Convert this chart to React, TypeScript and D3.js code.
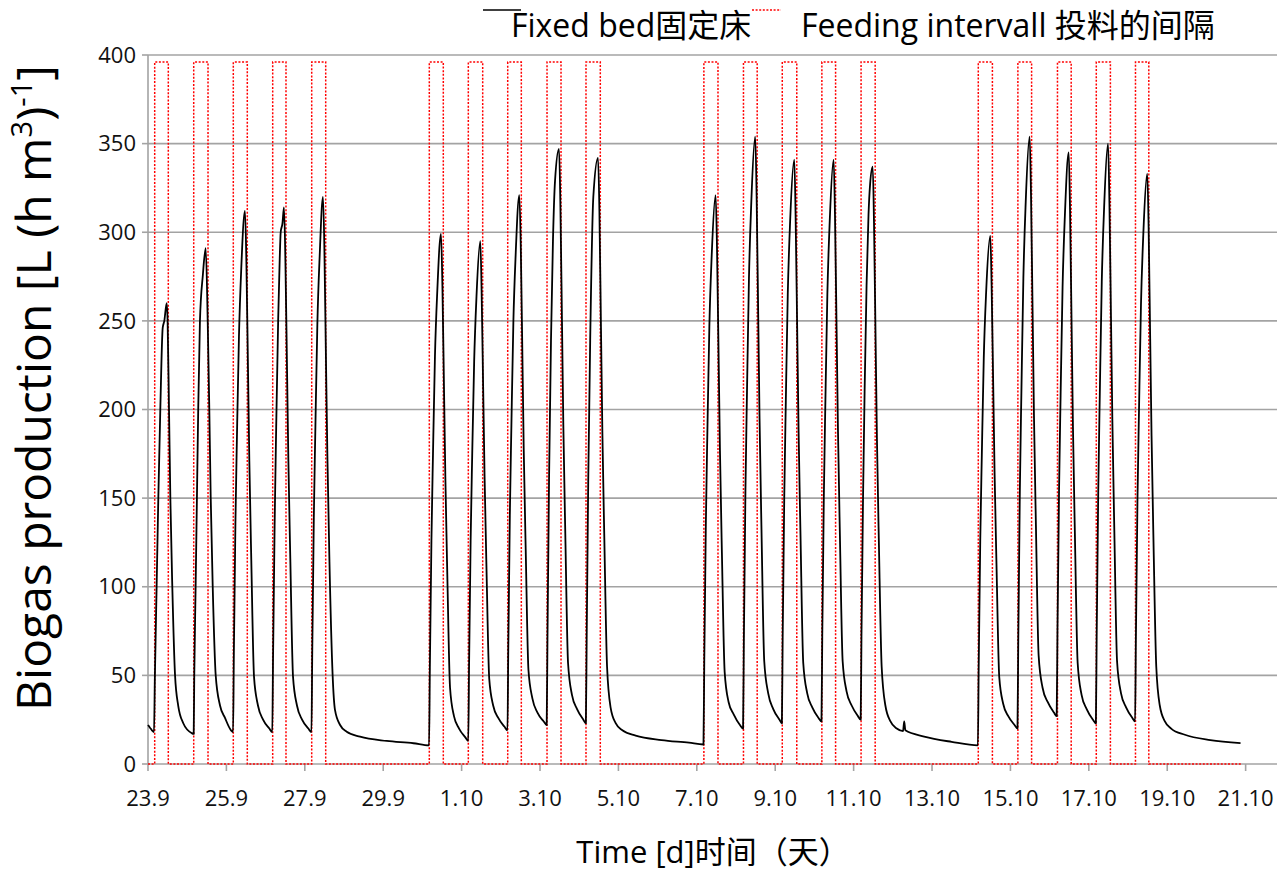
import React from "react";
import * as d3 from "d3";

// ---- data (days since 23.9) ----
const xTickDays = [0, 2, 4, 6, 8, 10, 12, 14, 16, 18, 20, 22, 24, 26, 28];
const xTickLabels = ["23.9", "25.9", "27.9", "29.9", "1.10", "3.10", "5.10", "7.10", "9.10", "11.10", "13.10", "15.10", "17.10", "19.10", "21.10"];
const yTicks = [0, 50, 100, 150, 200, 250, 300, 350, 400];

const feedStart = [0.171, 1.166, 2.176, 3.181, 4.176, 7.176, 8.171, 9.176, 10.179, 11.173, 14.18, 15.19, 16.18, 17.19, 18.19, 21.18, 22.19, 23.2, 24.19, 25.19];
const feedEnd = [0.518, 1.531, 2.533, 3.52, 4.533, 7.533, 8.538, 9.523, 10.536, 11.538, 14.54, 15.54, 16.55, 17.54, 18.55, 21.54, 22.54, 23.55, 24.55, 25.53];
const feedLevel = 396;
const feedLastDay = 27.9;

const group1: [number, number][] = [
  [0, 22], [0.05, 20.5], [0.1, 19], [0.153, 18],
  [0.176, 50], [0.22, 100], [0.263, 150], [0.314, 200], [0.375, 246], [0.416, 250], [0.477, 260],
  [0.5, 250], [0.536, 200], [0.57, 150], [0.62, 100], [0.69, 50], [0.77, 33], [0.9, 23], [1.11, 17.5],
  [1.166, 17],
  [1.18, 50], [1.215, 100], [1.248, 150], [1.281, 200], [1.325, 250], [1.4, 276], [1.472, 291],
  [1.523, 250], [1.564, 200], [1.6, 150], [1.651, 100], [1.727, 50], [1.837, 33], [1.964, 26], [2.117, 19],
  [2.17, 18],
  [2.19, 62], [2.23, 136], [2.27, 186], [2.32, 241], [2.38, 280], [2.474, 312],
  [2.51, 283], [2.55, 224], [2.585, 171], [2.635, 115], [2.705, 49], [2.805, 33], [2.935, 25], [3.095, 20],
  [3.17, 18],
  [3.19, 60], [3.23, 135], [3.27, 190], [3.32, 250], [3.36, 285], [3.385, 300], [3.43, 305], [3.469, 314],
  [3.505, 284], [3.545, 225], [3.58, 172], [3.63, 116], [3.7, 49], [3.8, 33], [3.93, 25], [4.09, 20],
  [4.17, 18],
  [4.19, 63], [4.23, 139], [4.27, 190], [4.32, 248], [4.38, 287], [4.464, 320],
  [4.5, 290], [4.54, 228], [4.575, 175], [4.625, 118], [4.71, 50], [4.77, 30.5], [4.9, 22], [5.07, 18.2],
  [5.41, 15.4], [6.09, 13], [6.77, 11.7],
];

const group2: [number, number][] = [
  [7.17, 10.5],
  [7.19, 54], [7.23, 126], [7.27, 175], [7.32, 230], [7.38, 267], [7.474, 299],
  [7.51, 270], [7.55, 213], [7.585, 162], [7.635, 107], [7.705, 43], [7.805, 27], [7.935, 20], [8.095, 15],
  [8.17, 13],
  [8.19, 55], [8.23, 126], [8.27, 174], [8.32, 227], [8.38, 264], [8.477, 295],
  [8.51, 267], [8.55, 212], [8.585, 163], [8.635, 110], [8.705, 48], [8.805, 33], [8.935, 26], [9.095, 21],
  [9.17, 19],
  [9.19, 64], [9.23, 140], [9.27, 191], [9.32, 249], [9.38, 288], [9.472, 321],
  [9.51, 291], [9.55, 231], [9.585, 177], [9.635, 121], [9.705, 53], [9.805, 37], [9.935, 29], [10.095, 24],
  [10.17, 22],
  [10.19, 70], [10.23, 160], [10.28, 239], [10.33, 295], [10.383, 329], [10.485, 347],
  [10.52, 315], [10.56, 250], [10.595, 191], [10.645, 130], [10.715, 57], [10.815, 39], [10.945, 31], [11.105, 25],
  [11.17, 23],
  [11.19, 70], [11.23, 160], [11.28, 239], [11.36, 320], [11.48, 342],
  [11.515, 312], [11.555, 246], [11.59, 188], [11.64, 128], [11.71, 55], [11.8, 32], [11.93, 23], [12.1, 19],
  [12.44, 16], [13.1, 13.5], [13.8, 12],
];

const group3: [number, number][] = [
  [14.17, 11],
  [14.19, 58], [14.23, 135], [14.27, 188], [14.32, 247], [14.38, 287], [14.48, 321],
  [14.515, 291], [14.555, 231], [14.59, 177], [14.64, 119], [14.71, 52], [14.81, 35], [14.94, 28], [15.1, 22],
  [15.18, 20],
  [15.2, 70], [15.24, 154], [15.28, 210], [15.33, 274], [15.39, 317], [15.49, 354],
  [15.525, 321], [15.565, 255], [15.6, 195], [15.65, 132], [15.72, 58], [15.82, 40], [15.95, 31], [16.11, 25],
  [16.17, 23],
  [16.19, 71], [16.23, 150], [16.27, 204], [16.32, 265], [16.38, 306], [16.487, 341],
  [16.52, 309], [16.56, 246], [16.595, 189], [16.645, 129], [16.715, 57], [16.815, 40], [16.945, 32], [17.105, 26],
  [17.18, 24],
  [17.2, 72], [17.24, 151], [17.28, 205], [17.33, 265], [17.39, 306], [17.49, 341],
  [17.525, 309], [17.565, 246], [17.6, 189], [17.65, 129], [17.72, 58], [17.82, 41], [17.95, 33], [18.11, 27],
  [18.18, 25],
  [18.2, 72], [18.24, 150], [18.28, 210], [18.33, 270], [18.38, 310], [18.42, 327], [18.487, 337],
  [18.52, 305], [18.56, 240], [18.595, 183], [18.645, 124], [18.715, 55], [18.81, 33], [18.94, 24], [19.1, 20],
  [19.26, 18.5], [19.29, 24], [19.32, 19], [19.8, 15.5], [20.5, 12.5],
];

const group4: [number, number][] = [
  [21.17, 10.5],
  [21.19, 54], [21.23, 126], [21.27, 174], [21.32, 229], [21.38, 266], [21.487, 298],
  [21.52, 270], [21.56, 215], [21.595, 165], [21.645, 112], [21.715, 49], [21.815, 34], [21.945, 27], [22.105, 22],
  [22.18, 20],
  [22.2, 70], [22.24, 154], [22.28, 210], [22.33, 274], [22.39, 317], [22.49, 354],
  [22.525, 321], [22.565, 256], [22.6, 197], [22.65, 135], [22.72, 61], [22.82, 43], [22.95, 35], [23.11, 29],
  [23.18, 27],
  [23.2, 75], [23.24, 154], [23.28, 208], [23.33, 269], [23.39, 310], [23.487, 345],
  [23.52, 313], [23.56, 248], [23.595, 190], [23.645, 129], [23.715, 57], [23.815, 39], [23.945, 31], [24.105, 25],
  [24.18, 23],
  [24.2, 72], [24.24, 154], [24.28, 209], [24.33, 272], [24.39, 314], [24.49, 350],
  [24.525, 317], [24.565, 252], [24.6, 194], [24.65, 132], [24.72, 58], [24.82, 40], [24.95, 32], [25.11, 26],
  [25.18, 24],
  [25.2, 70], [25.24, 148], [25.28, 200], [25.33, 259], [25.39, 299], [25.49, 333],
  [25.525, 303], [25.565, 240], [25.6, 185], [25.65, 125], [25.72, 55], [25.81, 33], [25.94, 24], [26.1, 20],
  [26.45, 16.5], [27.1, 13.5], [27.87, 11.8],
];

const FONT = "'Open Sans', 'Noto Sans CJK SC', sans-serif";
const GRID = "#a3a3a3";

export default function App() {
  const x = d3.scaleLinear().domain([0, 28.8]).range([148, 1277]);
  const y = d3.scaleLinear().domain([0, 400]).range([764, 55]);

  const fixedBed = [...group1, ...group2, ...group3, ...group4];
  const line = d3
    .line<[number, number]>()
    .x((d) => x(d[0]))
    .y((d) => y(d[1]))
    .curve(d3.curveMonotoneX);

  const feedPts: [number, number][] = [[0, 0]];
  feedStart.forEach((s, i) => {
    feedPts.push([s, 0], [s, feedLevel], [feedEnd[i], feedLevel], [feedEnd[i], 0]);
  });
  feedPts.push([feedLastDay, 0]);
  const feedLine = d3
    .line<[number, number]>()
    .x((d) => x(d[0]))
    .y((d) => y(d[1]));

  const [x0, x1] = x.range();

  return (
    <svg
      width={1279}
      height={872}
      style={{ position: "absolute", left: 0, top: 0, background: "#fff" }}
      fontFamily={FONT}
    >
      {/* gridlines */}
      {yTicks.filter((t) => t > 0).map((t) => (
        <line key={"g" + t} x1={x0} x2={x1} y1={y(t)} y2={y(t)} stroke={GRID} strokeWidth={1.6} />
      ))}
      {/* y axis */}
      <line x1={x0} x2={x0} y1={y(400)} y2={y(0)} stroke={GRID} strokeWidth={1.6} />
      {yTicks.map((t) => (
        <g key={"y" + t}>
          <line x1={x0 - 6} x2={x0} y1={y(t)} y2={y(t)} stroke={GRID} strokeWidth={1.6} />
          <text x={136} y={y(t)} dy="0.35em" textAnchor="end" fontSize={22} fill="#111">
            {t}
          </text>
        </g>
      ))}
      {/* x axis */}
      <line x1={x0} x2={x1} y1={y(0)} y2={y(0)} stroke={GRID} strokeWidth={1.6} />
      {xTickDays.map((d, i) => (
        <g key={"x" + d}>
          <line x1={x(d)} x2={x(d)} y1={y(0)} y2={y(0) + 7} stroke={GRID} strokeWidth={1.6} />
          <text x={x(d)} y={806} textAnchor="middle" fontSize={22} fill="#111">
            {xTickLabels[i]}
          </text>
        </g>
      ))}

      {/* feeding interval */}
      <path d={feedLine(feedPts) || ""} fill="none" stroke="#ff0000" strokeWidth={1.5} strokeDasharray="2 1.6" />
      {/* fixed bed */}
      <path d={line(fixedBed) || ""} fill="none" stroke="#000" strokeWidth={1.8} strokeLinejoin="round" />

      {/* axis titles */}
      <text transform="translate(51,388) rotate(-90)" textAnchor="middle" fontSize={48} fill="#000">
        Biogas production [L (h m
        <tspan dy={-19} fontSize={29}>3</tspan>
        <tspan dy={19}>)</tspan>
        <tspan dy={-19} fontSize={29}>-1</tspan>
        <tspan dy={19}>]</tspan>
      </text>
      <text x={713} y={863} textAnchor="middle" fontSize={31} fill="#000">
        Time [d]时间（天）
      </text>

      {/* legend */}
      <line x1={483} x2={521} y1={10} y2={10} stroke="#000" strokeWidth={1.5} />
      <text x={511} y={37} fontSize={32} fill="#000">Fixed bed固定床</text>
      <line x1={752} x2={781} y1={10} y2={10} stroke="#ff0000" strokeWidth={1.5} strokeDasharray="2 1.6" />
      <text x={801} y={37} fontSize={32} fill="#000">Feeding intervall 投料的间隔</text>
    </svg>
  );
}
